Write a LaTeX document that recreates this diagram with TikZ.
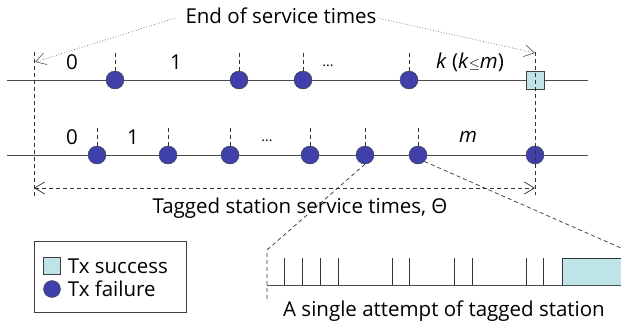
\documentclass[tikz,border=0pt]{standalone}
\usepackage{fontspec}
\setmainfont{Open Sans}
\usetikzlibrary{arrows.meta, positioning, calc}

\definecolor{txblue}{RGB}{64,64,170}
\definecolor{txcyan}{RGB}{190,228,232}

\begin{document}
\begin{tikzpicture}[x=1pt, y=-1pt,
    % --- Global Styles ---
    lbl/.style={font=\fontsize{20.5}{24}\selectfont, inner sep=0pt},
    failure/.style={circle, draw=black!75, fill=txblue, minimum size=18pt, inner sep=0pt},
    success/.style={rectangle, draw=black!75, fill=txcyan, minimum size=18pt, inner sep=0pt},
    timeline/.style={draw=black!70, line width=1pt},
    tickmark/.style={dashed, dash pattern=on 4pt off 3pt, black!80, line width=0.7pt},
    guide/.style={dashed, dash pattern=on 4pt off 3pt, black!80, line width=0.7pt},
    note arrow/.style={dotted, black!60, line width=0.7pt, -{Straight Barb[length=10pt, width=12pt]}},
    dim arrow/.style={guide, {Straight Barb[length=10pt, width=12pt]}-{Straight Barb[length=10pt, width=12pt]}},
    slot/.style={black!80, line width=0.8pt}
]
    \useasboundingbox (0,0) rectangle (621,327);

    % --- Top timeline (tagged station ends at k) ---
    \coordinate (topL) at (7,80);
    \coordinate (topR) at (588,80);
    \draw[timeline] (topL) -- (topR);
    \foreach \x [count=\i] in {115,239,303,409}{
        \node[failure] (a\i) at (\x,80) {};
        \draw[tickmark] (a\i.north) -- ++(0,-19);
    }
    \node[success] (ok) at (535,80) {};

    \node[lbl] at (72,62) {0};
    \node[lbl] at (176,62) {1};
    \node[lbl, font=\fontsize{14}{16}\selectfont] at (328,66) {...};
    \node[lbl] at (470,62) {\textit{k} (\textit{k}{\fontsize{15}{16}\selectfont$\leq$}\textit{m})};

    % --- Bottom timeline (tagged station up to m) ---
    \coordinate (botL) at (7,155);
    \coordinate (botR) at (588,155);
    \draw[timeline] (botL) -- (botR);
    \foreach \x [count=\i] in {97,168,230,310,365,418}{
        \node[failure] (b\i) at (\x,155) {};
        \draw[tickmark] (b\i.north) -- ++(0,-19);
    }
    \node[failure] (bend) at (535,155) {};

    \node[lbl] at (72,137) {0};
    \node[lbl] at (133,137) {1};
    \node[lbl, font=\fontsize{14}{16}\selectfont] at (267,141) {...};
    \node[lbl] at (468,137) {\textit{m}};

    % --- Service time boundaries ---
    \coordinate (startT) at (34,52);
    \coordinate (startB) at (34,197);
    \coordinate (endT) at (535,52);
    \coordinate (endB) at (535,195);
    \draw[guide] (startT) -- (startB);
    \draw[guide] (endT) -- (endB);

    \node[lbl] (eos) at (281,16) {End of service times};
    \draw[note arrow] ($(eos.west)+(-10,2)$) -- ($(startT)+(1,10)$);
    \draw[note arrow] ($(eos.east)+(1,2)$) -- ($(endT)+(0,1)$);

    \coordinate (dimL) at (34,188);
    \coordinate (dimR) at (535,188);
    \draw[dim arrow] (dimL) -- (dimR);
    \node[lbl] (theta) at (300,208) {Tagged station service times, Θ};

    % --- Zoom on a single attempt ---
    \coordinate (zl) at (267,250);
    \coordinate (zlb) at (267,302);
    \coordinate (zr) at (621,248);
    \draw[guide] (b5.south) -- (zl) -- (zlb);
    \draw[guide] (b6.south east) -- (zr);

    \coordinate (slotL) at (267,285);
    \coordinate (slotR) at (621,285);
    \fill[txcyan] (562,258) rectangle (621,285);
    \draw[slot] (621,258) -- (562,258) -- (562,285);
    \draw[timeline] (slotL) -- (slotR);
    \foreach \x in {284,302,320,338,392,409,454,472,526,543}
        \draw[slot] (\x,258) -- (\x,285);
    \node[lbl] (single) at (444,311) {A single attempt of tagged station};

    % --- Legend ---
    \draw[black!75, line width=0.8pt] (34,241) rectangle (186,312);
    \node[success, minimum size=17pt] (lgs) at (52,266) {};
    \node[failure, minimum size=17pt] (lgf) at (52,289) {};
    \node[lbl, right=7pt of lgs] {Tx success};
    \node[lbl, right=7pt of lgf] {Tx failure};

\end{tikzpicture}
\end{document}
